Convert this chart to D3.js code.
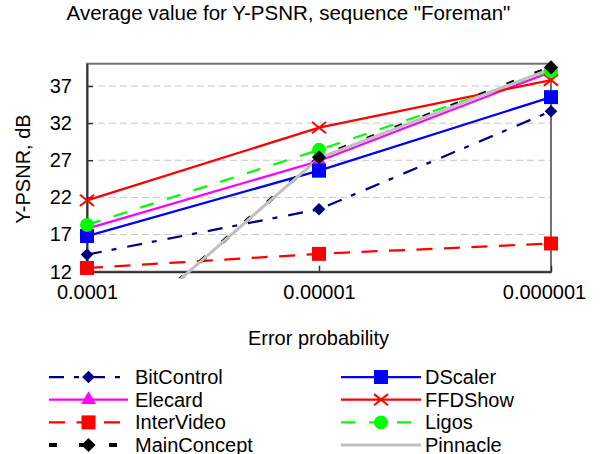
<!DOCTYPE html>
<html>
<head>
<meta charset="utf-8">
<script src="https://cdn.jsdelivr.net/npm/d3@7"></script>
<style>
  body { margin: 0; background: #fff; }
  svg { display: block; font-family: Arial, "Liberation Sans", sans-serif; }
</style>
</head>
<body>
<figure id="chart" style="margin:0"></figure>
<script>
// data
const categories = ["0.0001", "0.00001", "0.000001"];
const yTicks = [12, 17, 22, 27, 32, 37];

const bitControl  = [14.3, 20.4, 33.6];
const dScaler     = [16.8, 25.6, 35.5];
const elecard     = [17.8, 26.9, 38.9];
const ffdShow     = [21.6, 31.4, 37.8];
const interVideo  = [12.5, 14.4, 15.8];
const ligos       = [18.3, 28.4, 39.0];
const mainConcept = [0.0, 27.4, 39.5];
const pinnacle    = [0.0, 27.3, 39.3];

const series = [
  { name: "BitControl",  values: bitControl },
  { name: "DScaler",     values: dScaler },
  { name: "Elecard",     values: elecard },
  { name: "FFDShow",     values: ffdShow },
  { name: "InterVideo",  values: interVideo },
  { name: "Ligos",       values: ligos },
  { name: "MainConcept", values: mainConcept },
  { name: "Pinnacle",    values: pinnacle }
];

// look of each series
const crossType = {
  draw(ctx, size) {
    const r = Math.sqrt(size) / 2;
    ctx.moveTo(-r, -r * 0.8); ctx.lineTo(r, r * 0.8);
    ctx.moveTo(-r, r * 0.8); ctx.lineTo(r, -r * 0.8);
  }
};
const styles = {
  BitControl:  { color: "#000080", dash: "15,10,5,11", width: 2.25, marker: "diamond", size: 80 },
  DScaler:     { color: "#0000ff", dash: null,         width: 2.25, marker: "square",  size: 196 },
  Elecard:     { color: "#ff00ff", dash: null,         width: 2.25, marker: "triangle", size: 95 },
  FFDShow:     { color: "#ff0000", dash: null,         width: 2.25, marker: "cross",   size: 196 },
  InterVideo:  { color: "#ff0000", dash: "16,11.5",    width: 2.25, marker: "square",  size: 196 },
  Ligos:       { color: "#00ff00", dash: "14,14",      width: 2.25, marker: "circle",  size: 154 },
  MainConcept: { color: "#000000", dash: "8,22",       width: 4,    marker: "diamond", size: 100 },
  Pinnacle:    { color: "#c0c0c0", dash: null,         width: 3,    marker: null }
};
const markerOrder = ["BitControl", "Elecard", "InterVideo", "DScaler", "FFDShow", "Ligos", "MainConcept"];
const legendColumns = [
  ["BitControl", "Elecard", "InterVideo", "MainConcept"],
  ["DScaler", "FFDShow", "Ligos", "Pinnacle"]
];

const W = 602, H = 454;
const margin = { top: 63.7, right: 51, bottom: 182.3, left: 87 };
const width = W - margin.left - margin.right;
const height = H - margin.top - margin.bottom;

const svg = d3.select("#chart").append("svg")
  .attr("width", W)
  .attr("height", H);

svg.append("text")
  .attr("x", 288.5)
  .attr("y", 20)
  .attr("text-anchor", "middle")
  .style("font-size", "20.5px")
  .text('Average value for Y-PSNR, sequence "Foreman"');

const g = svg.append("g")
  .attr("transform", "translate(" + margin.left + "," + margin.top + ")");

const x = d3.scalePoint().domain(categories).range([0, width]).padding(0);
const y = d3.scaleLinear().domain([12, 40]).range([height, 0]);

// gridlines
g.append("g")
  .selectAll("line")
  .data(yTicks.filter(d => d > 12))
  .enter().append("line")
  .attr("x1", 0).attr("x2", width)
  .attr("y1", d => y(d)).attr("y2", d => y(d))
  .attr("stroke", "#c8c8c8")
  .attr("stroke-width", 1)
  .attr("stroke-dasharray", "7,4");

// plot area border
g.append("rect")
  .attr("width", width).attr("height", height)
  .attr("fill", "none")
  .attr("stroke", "#737373")
  .attr("stroke-width", 2);

// axes
const yAxis = g.append("g")
  .call(d3.axisLeft(y).tickValues(yTicks).tickSize(-6).tickPadding(15).tickSizeOuter(0));
const xAxis = g.append("g")
  .attr("transform", "translate(0," + height + ")")
  .call(d3.axisBottom(x).tickSize(-6).tickPadding(13.5).tickSizeOuter(0));

[yAxis, xAxis].forEach(a => {
  a.select(".domain").attr("stroke", "#333").attr("stroke-width", 2);
  a.selectAll(".tick line").attr("stroke", "#333").attr("stroke-width", 1.5);
  a.selectAll("text").attr("fill", "#000").style("font-size", "20px")
    .style("font-family", "Arial, 'Liberation Sans', sans-serif");
});
// last category label is pulled in to stay inside the chart
xAxis.selectAll(".tick text").filter(d => d === categories[categories.length - 1]).attr("dx", -7);

svg.append("text")
  .attr("x", 318.5).attr("y", 345)
  .attr("text-anchor", "middle")
  .style("font-size", "20px")
  .text("Error probability");

svg.append("text")
  .attr("transform", "translate(29.5,169) rotate(-90)")
  .attr("text-anchor", "middle")
  .style("font-size", "20px")
  .text("Y-PSNR, dB");

// lines, clipped a little below the axis
svg.append("defs").append("clipPath").attr("id", "clip")
  .append("rect").attr("x", -20).attr("y", -20).attr("width", width + 40).attr("height", height + 26.6);

const line = d3.line()
  .x((d, i) => x(categories[i]))
  .y(d => y(d));

g.append("g").attr("clip-path", "url(#clip)")
  .selectAll("path")
  .data(series)
  .enter().append("path")
  .attr("d", d => line(d.values))
  .attr("fill", "none")
  .attr("stroke", d => styles[d.name].color)
  .attr("stroke-width", d => styles[d.name].width)
  .attr("stroke-dasharray", d => styles[d.name].dash);

function markerPath(st) {
  const types = { diamond: d3.symbolSquare, square: d3.symbolSquare, triangle: d3.symbolTriangle,
    circle: d3.symbolCircle, cross: crossType };
  return d3.symbol().type(types[st.marker]).size(st.size)();
}

// markers
markerOrder.forEach(name => {
  const s = series.find(d => d.name === name);
  const st = styles[name];
  g.append("g")
    .selectAll("path")
    .data(s.values.map((v, i) => ({ c: categories[i], v })).filter(d => d.v >= 12))
    .enter().append("path")
    .attr("d", markerPath(st))
    .attr("transform", d => "translate(" + x(d.c) + "," + y(d.v) + ")" + (st.marker === "diamond" ? " rotate(45)" : ""))
    .attr("fill", st.marker === "cross" ? "none" : st.color)
    .attr("stroke", st.color)
    .attr("stroke-width", st.marker === "cross" ? 2 : 0);
});

// legend
const legendRows = [377, 399.7, 422.4, 445];
const legendCols = [
  { x1: 49, x2: 128, text: 135 },
  { x1: 341, x2: 421, text: 425 }
];
legendColumns.forEach((col, ci) => {
  const c = legendCols[ci];
  col.forEach((name, ri) => {
    const st = styles[name];
    const yy = legendRows[ri];
    const item = svg.append("g");
    item.append("line")
      .attr("x1", c.x1).attr("x2", c.x2)
      .attr("y1", yy).attr("y2", yy)
      .attr("stroke", st.color)
      .attr("stroke-width", st.width)
      .attr("stroke-dasharray", st.dash);
    if (st.marker) {
      item.append("path")
        .attr("d", markerPath(st))
        .attr("transform", "translate(" + (c.x1 + c.x2) / 2 + "," + yy + ")" + (st.marker === "diamond" ? " rotate(45)" : ""))
        .attr("fill", st.marker === "cross" ? "none" : st.color)
        .attr("stroke", st.color)
        .attr("stroke-width", st.marker === "cross" ? 2 : 0);
    }
    item.append("text")
      .attr("x", c.text).attr("y", yy + 7)
      .style("font-size", "20px")
      .text(name);
  });
});
</script>
</body>
</html>
